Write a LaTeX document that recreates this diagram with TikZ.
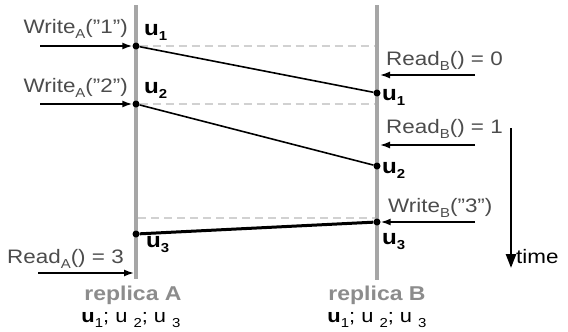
\documentclass[tikz,border=0pt]{standalone}
\usepackage{fontspec}
\setmainfont{Liberation Sans}[FakeStretch=1.15]
\usetikzlibrary{arrows.meta,positioning}
\newcommand{\lowsub}[1]{\raisebox{-0.5ex}{\fontsize{13}{13}\selectfont #1}}
\newcommand{\dq}{\symbol{34}}
\tikzset{
  replica/.style={
    draw=black!35,
    line width=4pt
  },
  syncline/.style={
    draw=black!18,
    line width=1.5pt,
    dash pattern=on 8pt off 5pt
  },
  update/.style={
    draw=black,
    line width=1.6pt
  },
  opcall/.style={
    line width=1.6pt,
    -{Latex[length=10pt,width=7pt]}
  },
  ev/.style={
    circle,
    fill=black,
    inner sep=0pt,
    minimum size=7pt
  },
  oplabel/.style={
    text=black!70,
    inner sep=0pt,
    font=\fontsize{19.5}{22}\selectfont
  },
  ulabel/.style={
    text=black,
    inner sep=0pt,
    font=\fontsize{21}{22}\selectfont\bfseries
  },
  rlabel/.style={
    text=black!45,
    inner sep=0pt,
    font=\fontsize{20}{22}\selectfont\bfseries
  }
}

\begin{document}
\begin{tikzpicture}[x=1pt,y=-1pt]
  \useasboundingbox (0,0) rectangle (568,332);

  % the two replicas
  \draw[replica] (136,5) coordinate (Atop) -- (136,279) coordinate (Abot);
  \draw[replica] (377,5) coordinate (Btop) -- (377,280) coordinate (Bbot);

  % update events
  \node[ev] (a1) at (136,46) {};
  \node[ev] (a2) at (136,104) {};
  \node[ev] (a3) at (136,234) {};
  \node[ev] (b1) at (377,93) {};
  \node[ev] (b2) at (377,166) {};
  \node[ev] (b3) at (377,222) {};

  % same moment on both replicas
  \draw[syncline] (a1) -- (375,46);
  \draw[syncline] (a2) -- (375,104);
  \draw[syncline] (138,218) -- (375,218);

  % propagation of updates
  \draw[update] (a1) -- (b1);
  \draw[update] (a2) -- (b2);
  \draw[update, line width=3pt] (b3) -- (a3);

  % client operations
  \coordinate (wa1) at (40,46);
  \coordinate (wa2) at (40,104);
  \coordinate (rb0) at (475,75);
  \coordinate (rb1) at (475,145);
  \coordinate (wb3) at (475,222);
  \coordinate (ra3) at (38,273);
  \draw[opcall] (wa1) -- (a1);
  \draw[opcall] (wa2) -- (a2);
  \draw[opcall] (rb0) -- (380,75);
  \draw[opcall] (rb1) -- (380,145);
  \draw[opcall] (wb3) -- (b3);
  \draw[opcall] (ra3) -- (134,273);

  % operation labels
  \node[oplabel, anchor=base east] (lwa1) at (128,33) {Write\lowsub{A}(\dq1\dq)};
  \node[oplabel, anchor=base east] (lwa2) at (128,92) {Write\lowsub{A}(\dq2\dq)};
  \node[oplabel, anchor=base west] (lrb0) at (386,65) {Read\lowsub{B}() = 0};
  \node[oplabel, anchor=base west] (lrb1) at (386,133) {Read\lowsub{B}() = 1};
  \node[oplabel, anchor=base west] (lwb3) at (388,212) {Write\lowsub{B}(\dq3\dq)};
  \node[oplabel, anchor=base west] (lra3) at (7,263) {Read\lowsub{A}() = 3};

  % update labels
  \node[ulabel, anchor=base west] (la1) at (144,35) {u\lowsub{1}};
  \node[ulabel, anchor=base west] (la2) at (144,93) {u\lowsub{2}};
  \node[ulabel, anchor=base west] (la3) at (146,247) {u\lowsub{3}};
  \node[ulabel, anchor=base west] (lb1) at (382,100) {u\lowsub{1}};
  \node[ulabel, anchor=base west] (lb2) at (382,173) {u\lowsub{2}};
  \node[ulabel, anchor=base west] (lb3) at (382,244) {u\lowsub{3}};

  % time axis
  \coordinate (t0) at (511,128);
  \coordinate (t1) at (511,268);
  \draw[line width=2.5pt, -{Triangle[length=14pt,width=10pt]}] (t0) -- (t1);
  \node[ulabel, anchor=base west, font=\fontsize{19.5}{22}\selectfont] (time) at (516,263) {time};

  % replica names and their update order
  \node[rlabel, anchor=base] (repA) at (133,300) {replica A};
  \node[rlabel, anchor=base] (repB) at (377,300) {replica B};
  \node[ulabel, anchor=base, font=\fontsize{19}{22}\selectfont] (ordA) at (131,322) {\textbf{u}\lowsub{1}; u \lowsub{2}; u \lowsub{3}};
  \node[ulabel, anchor=base, font=\fontsize{19}{22}\selectfont] (ordB) at (377,322) {\textbf{u}\lowsub{1}; u \lowsub{2}; u \lowsub{3}};
\end{tikzpicture}
\end{document}
